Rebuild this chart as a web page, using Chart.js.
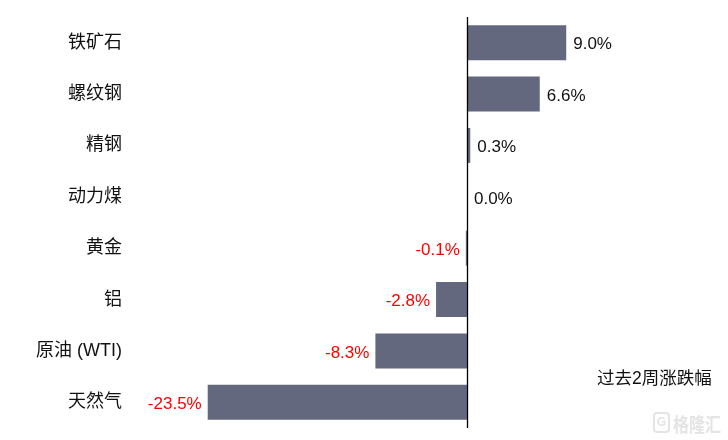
<!DOCTYPE html>
<html>
<head>
<meta charset="utf-8">
<script src="https://cdn.jsdelivr.net/npm/chart.js@4"></script>
<style>
  html, body { margin: 0; padding: 0; background: #fff; }
  #wrap { position: relative; width: 728px; height: 440px; }
  .note { position: absolute; font-family: "Liberation Sans", "Noto Sans CJK SC", sans-serif; }
</style>
</head>
<body>
<div id="wrap">
  <canvas id="chart" width="728" height="440"></canvas>
  <div class="note" style="left:597px; top:364px; font-size:17.5px; color:#111;">过去2周涨跌幅</div>
  <div class="note" style="left:653px; top:412px; width:13px; height:17px; border:2px solid #e4e4e4; border-radius:4px; font-size:12px; line-height:17px; text-align:center; color:#e4e4e4; font-weight:bold;">G</div>
  <div class="note" style="left:673px; top:409px; font-size:16px; color:#e4e4e4; font-weight:bold; transform:scaleY(1.2); transform-origin:top left;">格隆汇</div>
</div>
<script>
// Commodity names and 2-week change (%)
const categories = ['铁矿石', '螺纹钢', '精钢', '动力煤', '黄金', '铝', '原油 (WTI)', '天然气'];
const changes = [9.0, 6.6, 0.3, 0.0, -0.1, -2.8, -8.3, -23.5];

const FONT = '"Liberation Sans", "Noto Sans CJK SC", sans-serif';
const BAR_COLOR = '#63687f';

// vertical zero line
const zeroLine = {
  id: 'zeroLine',
  afterDatasetsDraw(chart) {
    const { ctx, chartArea, scales } = chart;
    const x = Math.round(scales.x.getPixelForValue(0)) + 0.5;
    ctx.save();
    ctx.strokeStyle = '#000';
    ctx.lineWidth = 1.3;
    ctx.beginPath();
    ctx.moveTo(x, chartArea.top);
    ctx.lineTo(x, chartArea.bottom);
    ctx.stroke();
    ctx.restore();
  }
};

// value labels at bar ends
const valueLabels = {
  id: 'valueLabels',
  afterDatasetsDraw(chart) {
    const { ctx } = chart;
    const meta = chart.getDatasetMeta(0);
    ctx.save();
    ctx.font = '17px ' + FONT;
    ctx.textBaseline = 'middle';
    meta.data.forEach((bar, i) => {
      const v = changes[i];
      const txt = v.toFixed(1) + '%';
      if (v < 0) {
        ctx.fillStyle = '#ff0000';
        ctx.textAlign = 'right';
        ctx.fillText(txt, bar.x - 6, bar.y + 2);
      } else {
        ctx.fillStyle = '#111';
        ctx.textAlign = 'left';
        ctx.fillText(txt, bar.x + 7, bar.y + 2);
      }
    });
    ctx.restore();
  }
};

new Chart(document.getElementById('chart'), {
  type: 'bar',
  data: {
    labels: categories,
    datasets: [{
      data: changes,
      backgroundColor: BAR_COLOR,
      borderWidth: 0,
      barPercentage: 0.68,
      categoryPercentage: 1
    }]
  },
  options: {
    indexAxis: 'y',
    responsive: false,
    animation: false,
    devicePixelRatio: 1,
    layout: { padding: { top: 17, bottom: 12, right: 68, left: 0 } },
    plugins: {
      legend: { display: false },
      tooltip: { enabled: false }
    },
    scales: {
      x: {
        display: false,
        min: -30,
        max: 17.5
      },
      y: {
        grid: { display: false, drawTicks: false },
        border: { display: false },
        ticks: {
          color: '#111',
          padding: 14,
          font: { family: FONT, size: 18 }
        },
        afterFit(scale) {
          scale.width = 136;
          // drop the label half-height margins so layout padding rules
          scale.paddingTop = 0;
          scale.paddingBottom = 0;
        }
      }
    }
  },
  plugins: [zeroLine, valueLabels]
});
</script>
</body>
</html>
